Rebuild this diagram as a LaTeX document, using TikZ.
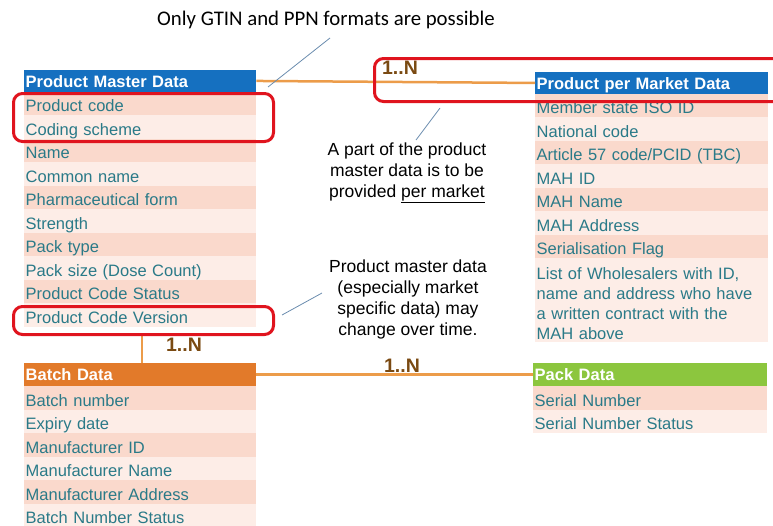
\documentclass[tikz,border=0pt]{standalone}
\usepackage{fontspec}
\setmainfont{Liberation Sans}
\newfontfamily\calib{Carlito}
\usetikzlibrary{positioning}
\definecolor{hdrblue}{HTML}{1570C0}
\definecolor{hdrorange}{HTML}{E27A2A}
\definecolor{hdrgreen}{HTML}{8CC63E}
\definecolor{rowdark}{HTML}{FAD9CC}
\definecolor{rowlight}{HTML}{FDEDE7}
\definecolor{txtteal}{HTML}{2A7A88}
\definecolor{linkorange}{HTML}{EC9C4A}
\definecolor{lblbrown}{HTML}{7A4A12}
\definecolor{callgrey}{HTML}{6A8CAE}
\definecolor{boxred}{HTML}{E0141E}
\newcommand\rowtxt[1]{\raisebox{-4.25pt}[12pt][3.5pt]{#1}}
\newcommand\hdrtxt[1]{\raisebox{-2pt}[12pt][3.5pt]{#1}}
\tikzset{
  cell/.style={rectangle, anchor=north west, inner xsep=1.5pt, inner ysep=0pt,
    text=txtteal, align=left, font=\fontsize{16.5}{20}\selectfont,
    text height=12pt, text depth=3.5pt, minimum height=23.5pt},
  dark/.style={cell, fill=rowdark},
  light/.style={cell, fill=rowlight},
  hdr/.style={cell, text=white, font=\fontsize{16.5}{20}\selectfont\bfseries, minimum height=21.5pt},
  redbox/.style={draw=boxred, line width=3pt, rounded corners=9pt, anchor=north west, inner sep=0pt},
  link/.style={draw=linkorange, line width=2.5pt},
  mult/.style={text=lblbrown, font=\fontsize{19.5}{22}\selectfont\bfseries, inner sep=0pt},
  note/.style={align=center, text=black, font=\fontsize{17.5}{21}\selectfont, inner sep=0pt},
  callout/.style={draw=callgrey, line width=0.8pt}
}
\begin{document}
\begin{tikzpicture}[x=1pt,y=-1pt]
\useasboundingbox (0,0) rectangle (773,525);
\clip (0,0) rectangle (773,525);
% Product Master Data
\node[hdr, fill=hdrblue, minimum width=232pt, text width=229pt] (pmh) at (24,70) {\hdrtxt{Product Master Data}};
\foreach [count=\i] \t in {Product code, Coding scheme, Name, Common name, Pharmaceutical form, Strength, Pack type, Pack size (Dose Count), Product Code Status, Product Code Version}{
  \ifodd\i \def\sty{dark}\else\def\sty{light}\fi
  \node[\sty, minimum width=232pt, text width=229pt] (pm\i) at (24,{91.5+(\i-1)*23.5}) {\rowtxt{\t}};
}
% Batch Data
\node[hdr, fill=hdrorange, minimum width=232pt, text width=229pt, minimum height=23pt] (bh) at (24,363) {\hdrtxt{Batch Data}};
\foreach [count=\i] \t in {Batch number, Expiry date, Manufacturer ID, Manufacturer Name, Manufacturer Address, Batch Number Status}{
  \ifodd\i \def\sty{dark}\else\def\sty{light}\fi
  \node[\sty, minimum width=232pt, text width=229pt] (bd\i) at (24,{386+(\i-1)*23.5}) {\rowtxt{\t}};
}
% Product per Market Data
\node[hdr, fill=hdrblue, minimum width=233pt, text width=230pt] (ppmh) at (535,72) {\hdrtxt{Product per Market Data}};
\foreach [count=\i] \t in {Member state ISO ID, National code, Article 57 code/PCID (TBC), MAH ID, MAH Name, MAH Address, Serialisation Flag}{
  \ifodd\i \def\sty{dark}\else\def\sty{light}\fi
  \node[\sty, minimum width=233pt, text width=230pt] (pp\i) at (535,{93.5+(\i-1)*23.5}) {\rowtxt{\t}};
}
\node[light, minimum width=233pt, minimum height=84pt, text height=, text depth=] (pp8) at (535,258) {};
\node[cell, anchor=west, text height=, text depth=, text width=230pt] (pp8t) at ([yshift=-3pt]pp8.west) {List of Wholesalers with ID,\\name and address who have\\a written contract with the\\MAH above};
% Pack Data
\node[hdr, fill=hdrgreen, minimum width=234pt, text width=231pt, minimum height=23pt] (pkh) at (533,363) {\hdrtxt{Pack Data}};
\node[dark, minimum width=234pt, text width=231pt] (pk1) at (533,386) {\rowtxt{Serial Number}};
\node[light, minimum width=234pt, text width=231pt] (pk2) at (533,409.5) {\rowtxt{Serial Number Status}};
% connectors
\draw[link] (pmh.east) -- (ppmh.west);
\coordinate (vtop) at (142,333);
\draw[link] (vtop) -- (vtop |- bh.north);
\draw[link] (bh.east) -- (pkh.west);
% multiplicities
\node[mult] (m1) at (400,68) {1..N};
\node[mult] (m2) at (184,345) {1..N};
\node[mult] (m3) at (402,366) {1..N};
% red highlight boxes
\node[redbox, minimum width=260pt, minimum height=48pt] (hl1) at (12,92) {};
\node[redbox, minimum width=260pt, minimum height=28pt] (hl2) at (12,305) {};
\node[redbox, minimum width=420pt, minimum height=43pt] (hl3) at (373,57) {};
% notes
\node[note, font=\calib\fontsize{20.8}{24}\selectfont] (n1) at (326,20) {Only GTIN and PPN formats are possible};
\node[note] (n2) at (407,173) {A part of the product\\master data is to be\\provided \underline{per market}};
\node[note] (n3) at (408,299) {Product master data\\(especially market\\specific data) may\\change over time.};
\coordinate (c1) at (268,87);
\coordinate (c2) at (416,140);
\coordinate (c3) at (282,315);
\draw[callout] (330,38) -- (c1);
\draw[callout] (440,108) -- (c2);
\draw[callout] (322,293) -- (c3);
\end{tikzpicture}
\end{document}
